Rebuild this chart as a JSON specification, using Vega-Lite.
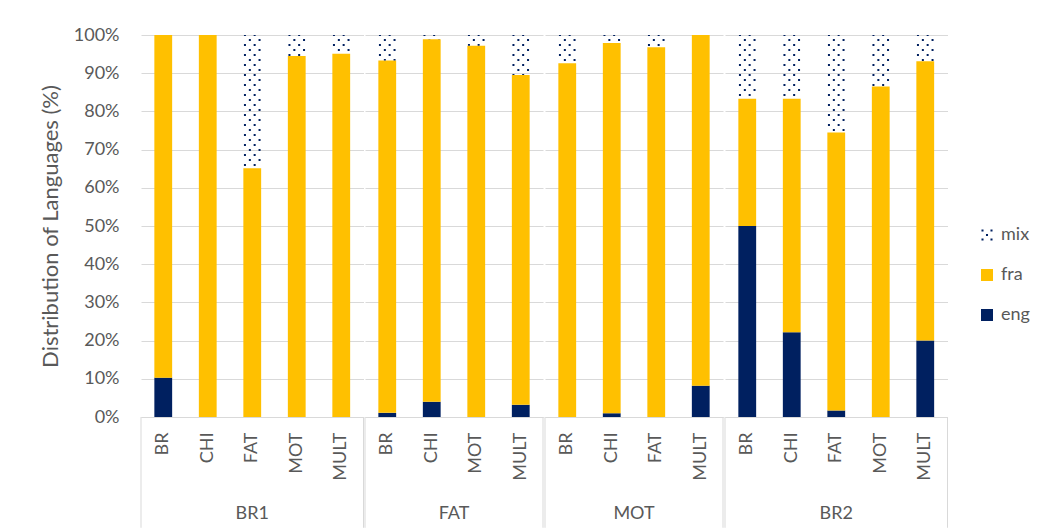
{
  "$schema": "https://vega.github.io/schema/vega-lite/v6.json",
  "padding": {"left": 39, "top": 26, "right": 5, "bottom": 0},
  "config": {
    "font": "Lato",
    "view": {"stroke": null},
    "axisX": {"labelAngle": -90, "ticks": false, "domainColor": "#d9d9d9", "labelPadding": 15, "grid": false, "labelFontSize": 18, "labelColor": "#595959", "labelFont": "Lato"},
    "axisY": {"grid": true, "gridColor": "#d9d9d9", "domain": false, "ticks": false, "labelPadding": 21, "titlePadding": 11, "labelFontSize": 18, "titleFontSize": 22, "labelColor": "#595959", "titleColor": "#595959", "titleFontWeight": "normal", "labelFont": "Lato", "titleFont": "Lato", "labelOverlap": false}
  },
  "data": {"values": [
    {"g":"BR1","s":"BR","lang":"eng","v":10.3},{"g":"BR1","s":"BR","lang":"fra","v":89.7},{"g":"BR1","s":"BR","lang":"mix","v":0},
    {"g":"BR1","s":"CHI","lang":"eng","v":0},{"g":"BR1","s":"CHI","lang":"fra","v":100},{"g":"BR1","s":"CHI","lang":"mix","v":0},
    {"g":"BR1","s":"FAT","lang":"eng","v":0},{"g":"BR1","s":"FAT","lang":"fra","v":65.1},{"g":"BR1","s":"FAT","lang":"mix","v":34.9},
    {"g":"BR1","s":"MOT","lang":"eng","v":0},{"g":"BR1","s":"MOT","lang":"fra","v":94.5},{"g":"BR1","s":"MOT","lang":"mix","v":5.5},
    {"g":"BR1","s":"MULT","lang":"eng","v":0},{"g":"BR1","s":"MULT","lang":"fra","v":95.1},{"g":"BR1","s":"MULT","lang":"mix","v":4.9},
    {"g":"FAT","s":"BR","lang":"eng","v":1.1},{"g":"FAT","s":"BR","lang":"fra","v":92.2},{"g":"FAT","s":"BR","lang":"mix","v":6.7},
    {"g":"FAT","s":"CHI","lang":"eng","v":4.0},{"g":"FAT","s":"CHI","lang":"fra","v":94.9},{"g":"FAT","s":"CHI","lang":"mix","v":1.1},
    {"g":"FAT","s":"MOT","lang":"eng","v":0},{"g":"FAT","s":"MOT","lang":"fra","v":97.2},{"g":"FAT","s":"MOT","lang":"mix","v":2.8},
    {"g":"FAT","s":"MULT","lang":"eng","v":3.2},{"g":"FAT","s":"MULT","lang":"fra","v":86.3},{"g":"FAT","s":"MULT","lang":"mix","v":10.5},
    {"g":"MOT","s":"BR","lang":"eng","v":0},{"g":"MOT","s":"BR","lang":"fra","v":92.6},{"g":"MOT","s":"BR","lang":"mix","v":7.4},
    {"g":"MOT","s":"CHI","lang":"eng","v":1.0},{"g":"MOT","s":"CHI","lang":"fra","v":96.9},{"g":"MOT","s":"CHI","lang":"mix","v":2.1},
    {"g":"MOT","s":"FAT","lang":"eng","v":0},{"g":"MOT","s":"FAT","lang":"fra","v":96.8},{"g":"MOT","s":"FAT","lang":"mix","v":3.2},
    {"g":"MOT","s":"MULT","lang":"eng","v":8.2},{"g":"MOT","s":"MULT","lang":"fra","v":91.8},{"g":"MOT","s":"MULT","lang":"mix","v":0},
    {"g":"BR2","s":"BR","lang":"eng","v":50},{"g":"BR2","s":"BR","lang":"fra","v":33.3},{"g":"BR2","s":"BR","lang":"mix","v":16.7},
    {"g":"BR2","s":"CHI","lang":"eng","v":22.2},{"g":"BR2","s":"CHI","lang":"fra","v":61.1},{"g":"BR2","s":"CHI","lang":"mix","v":16.7},
    {"g":"BR2","s":"FAT","lang":"eng","v":1.7},{"g":"BR2","s":"FAT","lang":"fra","v":72.8},{"g":"BR2","s":"FAT","lang":"mix","v":25.5},
    {"g":"BR2","s":"MOT","lang":"eng","v":0},{"g":"BR2","s":"MOT","lang":"fra","v":86.5},{"g":"BR2","s":"MOT","lang":"mix","v":13.5},
    {"g":"BR2","s":"MULT","lang":"eng","v":20},{"g":"BR2","s":"MULT","lang":"fra","v":73.1},{"g":"BR2","s":"MULT","lang":"mix","v":6.9}
  ]},
  "transform": [
    {"stack": "v", "groupby": ["g", "s"], "sort": [{"field": "lang", "order": "ascending"}], "as": ["y0", "y1"]}
  ],
  "facet": {
    "column": {
      "field": "g", "type": "nominal", "sort": ["BR1", "FAT", "MOT", "BR2"],
      "header": {"labelOrient": "bottom", "title": null, "labelFontSize": 18, "labelColor": "#595959", "labelFont": "Lato", "labelPadding": -24}
    }
  },
  "spacing": 0,
  "resolve": {"scale": {"x": "independent"}},
  "spec": {
    "width": {"step": 44.5},
    "height": 382,
    "layer": [
      {
        "transform": [{"filter": "datum.lang !== 'mix'"}],
        "mark": {"type": "bar"},
        "encoding": {
          "x": {"field": "s", "type": "nominal", "title": null,
                "scale": {"paddingInner": 0.6, "paddingOuter": 0.3}},
          "y": {"field": "y1", "type": "quantitative", "title": "Distribution of Languages (%)",
                "scale": {"domain": [0, 100], "nice": false},
                "axis": {"values": [0,10,20,30,40,50,60,70,80,90,100], "labelExpr": "datum.value + '%'"}},
          "y2": {"field": "y0"},
          "color": {"field": "lang", "type": "nominal",
                    "scale": {"domain": ["mix", "fra", "eng"], "range": ["#002060", "#FFC000", "#002060"]},
                    "legend": {"title": null, "orient": "none", "legendX": 837, "legendY": 191, "symbolSize": 144, "symbolType": "square",
                               "labelFontSize": 18, "labelColor": "#595959", "labelFont": "Lato", "rowPadding": 22, "labelOffset": 5,
                               "encode": {"symbols": {"update": {"shape": [{"test": "datum.value === 'mix'", "value": "M-0.92,-0.92h0.34v0.34h-0.34Z M0.58,-0.92h0.34v0.34h-0.34Z M-0.17,-0.17h0.34v0.34h-0.34Z M-0.92,0.58h0.34v0.34h-0.34Z M0.58,0.58h0.34v0.34h-0.34Z"}, {"value": "square"}]}}}}}
        }
      },
      {
        "transform": [{"filter": "datum.lang === 'mix' && datum.v > 0"}],
        "mark": {"type": "rule", "color": "#002060", "strokeWidth": 2, "strokeDash": [2, 8], "strokeDashOffset": 1, "xOffset": -7.3},
        "encoding": {"x": {"field": "s", "type": "nominal", "title": null, "bandPosition": 0.5}, "y": {"field": "y1", "type": "quantitative", "title": "Distribution of Languages (%)", "axis": {"values": [0,10,20,30,40,50,60,70,80,90,100], "labelExpr": "datum.value + '%'"}}, "y2": {"field": "y0"}}
      },
      {
        "transform": [{"filter": "datum.lang === 'mix' && datum.v > 0"}],
        "mark": {"type": "rule", "color": "#002060", "strokeWidth": 2, "strokeDash": [2, 8], "strokeDashOffset": 1, "xOffset": 2.4},
        "encoding": {"x": {"field": "s", "type": "nominal", "title": null, "bandPosition": 0.5}, "y": {"field": "y1", "type": "quantitative", "title": "Distribution of Languages (%)", "axis": {"values": [0,10,20,30,40,50,60,70,80,90,100], "labelExpr": "datum.value + '%'"}}, "y2": {"field": "y0"}}
      },
      {
        "transform": [{"filter": "datum.lang === 'mix' && datum.v > 0"}],
        "mark": {"type": "rule", "color": "#002060", "strokeWidth": 2, "strokeDash": [2, 8], "strokeDashOffset": 6, "xOffset": -2.4},
        "encoding": {"x": {"field": "s", "type": "nominal", "title": null, "bandPosition": 0.5}, "y": {"field": "y1", "type": "quantitative", "title": "Distribution of Languages (%)", "axis": {"values": [0,10,20,30,40,50,60,70,80,90,100], "labelExpr": "datum.value + '%'"}}, "y2": {"field": "y0"}}
      },
      {
        "transform": [{"filter": "datum.lang === 'mix' && datum.v > 0"}],
        "mark": {"type": "rule", "color": "#002060", "strokeWidth": 2, "strokeDash": [2, 8], "strokeDashOffset": 6, "xOffset": 7.3},
        "encoding": {"x": {"field": "s", "type": "nominal", "title": null, "bandPosition": 0.5}, "y": {"field": "y1", "type": "quantitative", "title": "Distribution of Languages (%)", "axis": {"values": [0,10,20,30,40,50,60,70,80,90,100], "labelExpr": "datum.value + '%'"}}, "y2": {"field": "y0"}}
      },
      {
        "transform": [
          {"filter": "datum.lang === 'eng'"},
          {"window": [{"op": "row_number", "as": "rn"}], "groupby": ["g"], "sort": [{"field": "s", "order": "ascending"}]},
          {"filter": "datum.rn === 1"}
        ],
        "mark": {"type": "rule", "color": "#d9d9d9", "strokeWidth": 1},
        "encoding": {"x": {"field": "s", "type": "nominal", "title": null, "bandPosition": -0.75}, "y": {"datum": 0, "type": "quantitative", "title": "Distribution of Languages (%)", "axis": {"values": [0,10,20,30,40,50,60,70,80,90,100], "labelExpr": "datum.value + '%'"}}, "y2": {"datum": -29}}
      },
      {
        "transform": [
          {"filter": "datum.lang === 'eng'"},
          {"window": [{"op": "row_number", "as": "rn"}], "groupby": ["g"], "sort": [{"field": "s", "order": "ascending"}]},
          {"joinaggregate": [{"op": "count", "as": "n"}], "groupby": ["g"]},
          {"filter": "datum.rn === datum.n"}
        ],
        "mark": {"type": "rule", "color": "#d9d9d9", "strokeWidth": 1},
        "encoding": {"x": {"field": "s", "type": "nominal", "title": null, "bandPosition": 1.75}, "y": {"datum": 0, "type": "quantitative", "title": "Distribution of Languages (%)", "axis": {"values": [0,10,20,30,40,50,60,70,80,90,100], "labelExpr": "datum.value + '%'"}}, "y2": {"datum": -29}}
      }
    ]
  }
}
